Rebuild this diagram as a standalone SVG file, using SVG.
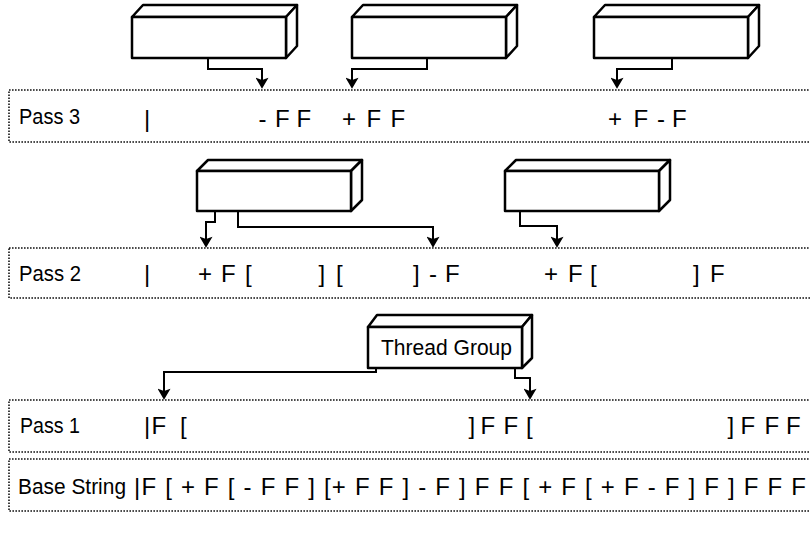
<svg xmlns="http://www.w3.org/2000/svg" width="810" height="543" viewBox="0 0 810 543">
<style>
.row{fill:none;stroke:#111;stroke-width:1.6;stroke-dasharray:1.6 1.4}
.box{fill:#fff;stroke:#000;stroke-width:2.5;stroke-linejoin:round}
.con{fill:none;stroke:#000;stroke-width:2}
.lbl{font-family:"Liberation Sans",Arial,sans-serif;font-size:22px;fill:#000}
.seq{font-family:"Liberation Sans",Arial,sans-serif;font-size:24px;fill:#000}
</style>
<defs>
<marker id="ah" viewBox="0 0 12 14" refX="9" refY="7" markerWidth="14" markerHeight="13" markerUnits="userSpaceOnUse" orient="auto">
<path d="M0,0 L12,7 L0,14 L2.5,7 z" fill="#000"/>
</marker>
</defs>
<rect width="810" height="543" fill="#fff"/>

<g id="row-pass3">
<rect class="row" x="9" y="90" width="830" height="52"/>
<text class="lbl" x="19" y="124" textLength="61" lengthAdjust="spacingAndGlyphs">Pass 3</text>
<text class="seq" x="144" y="127">|</text>
<text class="seq" x="258.5 275 296.5" y="127">-FF</text>
<text class="seq" x="342 366.5 390.5" y="127">+FF</text>
<text class="seq" x="608 633.5 657 672" y="127">+F-F</text>
</g>

<g id="row-pass2">
<rect class="row" x="9" y="248" width="830" height="50"/>
<text class="lbl" x="19" y="281" textLength="62" lengthAdjust="spacingAndGlyphs">Pass 2</text>
<text class="seq" x="144" y="282">|</text>
<text class="seq" x="198 221 245" y="282">+F[</text>
<text class="seq" x="318.5 336" y="282">][</text>
<text class="seq" x="413 429 445" y="282">]-F</text>
<text class="seq" x="544 568 590" y="282">+F[</text>
<text class="seq" x="693 710" y="282">]F</text>
</g>

<g id="row-pass1">
<rect class="row" x="9" y="400" width="830" height="52"/>
<text class="lbl" x="20" y="433" textLength="60" lengthAdjust="spacingAndGlyphs">Pass 1</text>
<text class="seq" x="144 151.5 180" y="434">|F[</text>
<text class="seq" x="468.5 480.5 503.5 526" y="434">]FF[</text>
<text class="seq" x="727.5 740.5 764.5 786" y="434">]FFF</text>
</g>

<g id="row-base">
<rect class="row" x="9" y="459" width="830" height="52"/>
<text class="lbl" x="18" y="494" textLength="108" lengthAdjust="spacingAndGlyphs">Base String</text>
<text class="seq" x="134" y="495" textLength="672" lengthAdjust="spacing">|F [ + F [ - F F ] [+ F F ] - F ] F F [ + F [ + F - F ] F ] F F F</text>
</g>

<g id="box-p3-1">
<path class="box" d="M132,17 L143,5 L297,5 L286,17 Z"/>
<path class="box" d="M286,17 L297,5 L297,46 L286,58 Z"/>
<rect class="box" x="132" y="17" width="154" height="41"/>
</g>
<g id="box-p3-2">
<path class="box" d="M352,17 L363,5 L517,5 L506,17 Z"/>
<path class="box" d="M506,17 L517,5 L517,46 L506,58 Z"/>
<rect class="box" x="352" y="17" width="154" height="41"/>
</g>
<g id="box-p3-3">
<path class="box" d="M594,17 L605,5 L759,5 L748,17 Z"/>
<path class="box" d="M748,17 L759,5 L759,46 L748,58 Z"/>
<rect class="box" x="594" y="17" width="154" height="41"/>
</g>

<g id="box-p2-1">
<path class="box" d="M197,171 L208,160 L362,160 L351,171 Z"/>
<path class="box" d="M351,171 L362,160 L362,200 L351,211 Z"/>
<rect class="box" x="197" y="171" width="154" height="40"/>
</g>
<g id="box-p2-2">
<path class="box" d="M505,171 L516,160 L670,160 L659,171 Z"/>
<path class="box" d="M659,171 L670,160 L670,200 L659,211 Z"/>
<rect class="box" x="505" y="171" width="154" height="40"/>
</g>

<g id="box-thread-group">
<path class="box" d="M368,327 L377,315 L532,315 L522,327 Z"/>
<path class="box" d="M522,327 L532,315 L532,358 L522,368 Z"/>
<rect class="box" x="368" y="327" width="154" height="41"/>
<text class="lbl" x="381" y="355" textLength="131" lengthAdjust="spacingAndGlyphs">Thread Group</text>
</g>

<g id="connectors">
<path class="con" marker-end="url(#ah)" d="M208,58 V69 H262 V86"/>
<path class="con" marker-end="url(#ah)" d="M427,58 V69 H352 V86"/>
<path class="con" marker-end="url(#ah)" d="M672,58 V69 H617 V86"/>
<path class="con" marker-end="url(#ah)" d="M215,211 V222 H206 V245"/>
<path class="con" marker-end="url(#ah)" d="M238,211 V227 H433 V245"/>
<path class="con" marker-end="url(#ah)" d="M520,211 V226 H557 V245"/>
<path class="con" marker-end="url(#ah)" d="M376,368 V372 H164 V397"/>
<path class="con" marker-end="url(#ah)" d="M515,368 V378 H530 V397"/>
</g>
</svg>
